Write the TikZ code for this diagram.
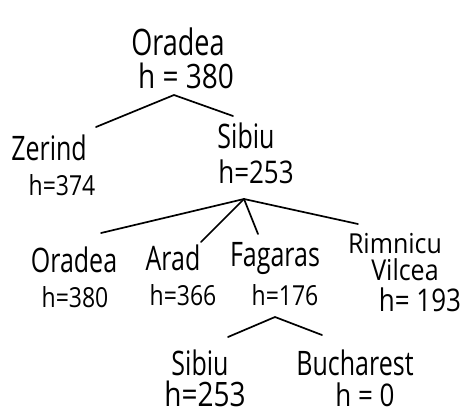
\documentclass[tikz,border=0pt]{standalone}
\usepackage{graphicx}
\usepackage{fontspec}
\setmainfont{Open Sans}
\newcommand\tallname[1]{\scalebox{1}[1.35]{#1}}
\newcommand\tallh[1]{\scalebox{1}[1.2]{#1}}
\begin{document}
\begin{tikzpicture}[x=1pt,y=-1pt,
  nm/.style={inner sep=0pt, anchor=base, font=\fontsize{25}{27}\selectfont},
  hv/.style={inner sep=0pt, anchor=base, font=\fontsize{23}{25}\selectfont},
  edge/.style={line width=1.7pt, line cap=round}]
\useasboundingbox (0,0) rectangle (466,413);
% texts
\node[nm, font=\fontsize{27}{29}\selectfont] (root) at (178,55) {\tallname{Oradea}};
\node[hv, font=\fontsize{28}{30}\selectfont] (rooth) at (186,88) {\tallh{h = 380}};
\node[nm] (zer) at (49,160) {\tallname{Zerind}};
\node[hv] (zerh) at (62,195) {\tallh{h=374}};
\node[nm] (sib) at (246,148) {\tallname{Sibiu}};
\node[hv, font=\fontsize{26}{28}\selectfont] (sibh) at (256,183) {\tallh{h=253}};
\node[nm] (ora) at (74,272) {\tallname{Oradea}};
\node[hv] (orah) at (75,307) {\tallh{h=380}};
\node[nm] (ara) at (173,270) {\tallname{Arad}};
\node[hv] (arah) at (183,305) {\tallh{h=366}};
\node[nm] (fag) at (275,266) {\tallname{Fagaras}};
\node[hv] (fagh) at (285,305) {\tallh{h=176}};
\node[nm] (rim) at (395,253) {\scalebox{1}[1.1]{Rimnicu}};
\node[nm] (vil) at (405,280) {\scalebox{1}[1.15]{Vilcea}};
\node[hv, font=\fontsize{26}{28}\selectfont] (rimh) at (420,311) {\tallh{h= 193}};
\node[nm] (sib2) at (200,375) {\tallname{Sibiu}};
\node[hv, font=\fontsize{28}{30}\selectfont] (sib2h) at (205,406) {\tallh{h=253}};
\node[nm] (buc) at (355,375) {\tallname{Bucharest}};
\node[hv, font=\fontsize{26}{28}\selectfont] (buch) at (365,406) {\tallh{h = 0}};
% connector points
\coordinate (a1) at (174,95);
\coordinate (e1l) at (96,127);
\coordinate (e1r) at (233,116);
\coordinate (a2) at (244,199);
\coordinate (e2a) at (101,233);
\coordinate (e2b) at (201,242);
\coordinate (e2c) at (258,234);
\coordinate (e2d) at (358,224);
\coordinate (a3) at (275,317);
\coordinate (e3l) at (228,337);
\coordinate (e3r) at (322,335);
\draw[edge] (e1l) -- (a1) -- (e1r);
\draw[edge] (a2) -- (e2a);
\draw[edge] (a2) -- (e2b);
\draw[edge] (a2) -- (e2c);
\draw[edge] (a2) -- (e2d);
\draw[edge] (e3l) -- (a3) -- (e3r);
\end{tikzpicture}
\end{document}
